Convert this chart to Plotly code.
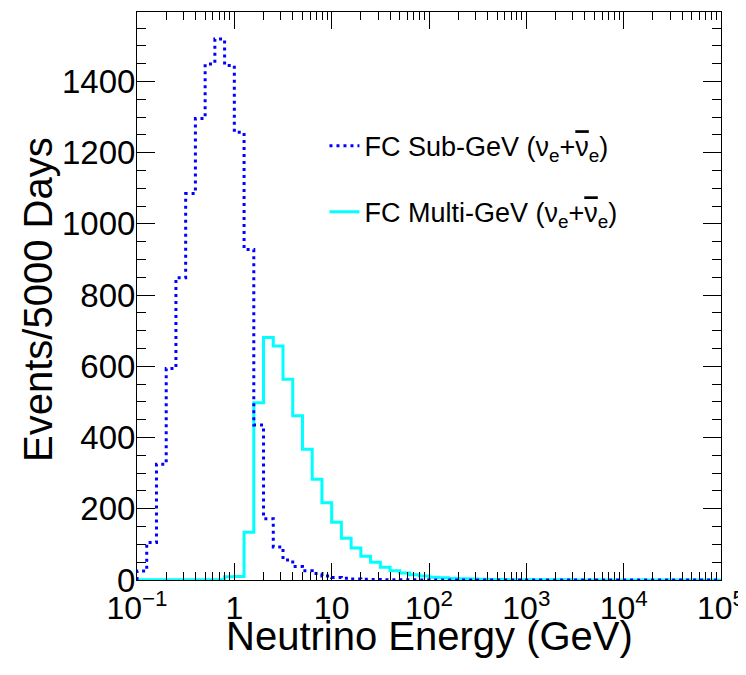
import numpy as np
import plotly.graph_objects as go

# 60 log-uniform bins, 10 per decade, 0.1 GeV .. 1e5 GeV
bin_edges = 10 ** np.linspace(-1, 5, 61)

sub_gev = [25, 105, 325, 594, 849, 1085, 1296, 1449, 1519, 1445,
           1257, 928, 435, 172, 93, 56, 38, 26, 18, 11,
           7, 5, 3, 2, 1.5, 1, 0.8, 0.5, 0.4, 0.3,
           0.2, 0.1, 0.1, 0, 0, 0, 0, 0, 0, 0,
           0, 0, 0, 0, 0, 0, 0, 0, 0, 0,
           0, 0, 0, 0, 0, 0, 0, 0, 0, 0]

multi_gev = [1, 1, 1, 1, 1, 1, 1, 1, 1, 9,
             10, 134, 498, 681, 657, 564, 461, 367, 283, 217,
             162, 117, 90, 67, 50, 36, 26, 20, 15, 11,
             8, 6, 4.5, 3.5, 2.5, 2, 1.5, 1.2, 1, 0.8,
             0.6, 0.5, 0.5, 0.4, 0.4, 0.3, 0.3, 0.3, 0.2, 0.2,
             0.2, 0.2, 0.1, 0.1, 0.1, 0.1, 0.1, 0.1, 0.1, 0.1]

x_tickvals = [0.1, 1, 10, 100, 1000, 10000, 100000]
x_ticktext = ["10<sup>\u22121</sup>", "1", "10", "10<sup>2</sup>",
              "10<sup>3</sup>", "10<sup>4</sup>", "10<sup>5</sup>"]
y_tickvals = [0, 200, 400, 600, 800, 1000, 1200, 1400]

nubar = '<span style="text-decoration:overline">\u03bd</span>'
label_sub = "FC Sub-GeV (\u03bd<sub>e</sub>+" + nubar + "<sub>e</sub>)"
label_multi = "FC Multi-GeV (\u03bd<sub>e</sub>+" + nubar + "<sub>e</sub>)"


def step_xy(values):
    xs = [bin_edges[0]] + list(bin_edges[:-1]) + [bin_edges[-1]]
    ys = [0] + list(values) + [values[-1]]
    return xs, ys


fig = go.Figure()
xm, ym = step_xy(multi_gev)
fig.add_trace(go.Scatter(x=xm, y=ym, mode="lines", line_shape="hv",
                         line=dict(color="#00ffff", width=3),
                         name=label_multi, legendrank=2, legendgroup="b"))
xs, ys = step_xy(sub_gev)
fig.add_trace(go.Scatter(x=xs, y=ys, mode="lines", line_shape="hv",
                         line=dict(color="#0000ff", width=3, dash="3px,4px"),
                         name=label_sub, legendrank=1, legendgroup="a"))

minor_x = [m * d for d in x_tickvals[:-1] for m in range(2, 10)]

fig.update_layout(
    width=746, height=675,
    margin=dict(l=129, r=33, t=4, b=103, autoexpand=False),
    paper_bgcolor="white", plot_bgcolor="white",
    font=dict(family="Liberation Sans, Arial, sans-serif", color="black"),
    showlegend=True,
    legend=dict(x=0.321, y=0.807, xanchor="left", yanchor="top",
                bgcolor="rgba(0,0,0,0)", borderwidth=0,
                font=dict(size=27), tracegroupgap=28, itemwidth=30),
    xaxis=dict(type="log", range=[-1, 5], automargin=False,
               tickmode="array", tickvals=x_tickvals, ticktext=x_ticktext,
               ticks="inside", ticklen=17, tickwidth=1, tickcolor="black",
               minor=dict(tickmode="array", tickvals=minor_x, ticks="inside",
                          ticklen=8, tickwidth=1, tickcolor="black", showgrid=False),
               showline=True, linecolor="black", linewidth=1, mirror="allticks",
               showgrid=False, zeroline=False, ticklabelstandoff=0,
               tickfont=dict(size=32)),
    yaxis=dict(range=[0, 1595], automargin=False,
               tickmode="array", tickvals=y_tickvals,
               ticks="inside", ticklen=18, tickwidth=1, tickcolor="black",
               minor=dict(dtick=50, ticks="inside", ticklen=9, tickwidth=1,
                          tickcolor="black", showgrid=False),
               showline=True, linecolor="black", linewidth=1, mirror="allticks",
               showgrid=False, zeroline=False, ticklabelstandoff=-6,
               tickfont=dict(size=33)),
    annotations=[
        dict(text="Neutrino Energy (GeV)", xref="paper", yref="paper",
             x=0.5, y=-0.099, xanchor="center", yanchor="middle",
             showarrow=False, font=dict(size=40)),
        dict(text="Events/5000 Days", xref="paper", yref="paper",
             x=-0.1695, y=0.493, xanchor="center", yanchor="middle",
             textangle=-90, showarrow=False, font=dict(size=40)),
    ],
)

fig.write_html("out.html")
